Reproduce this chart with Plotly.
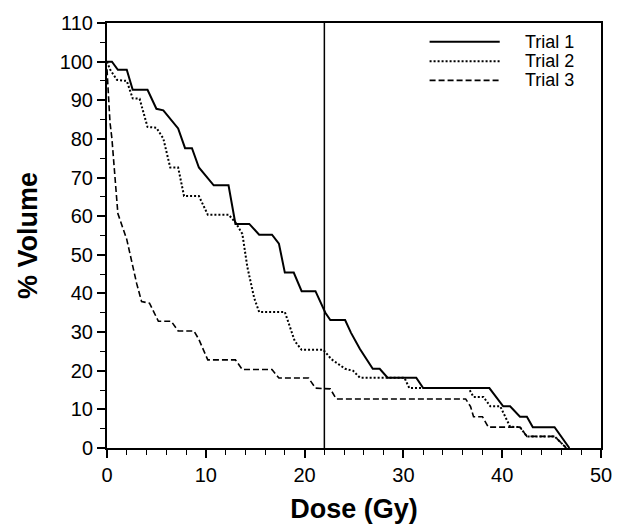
import plotly.graph_objects as go

trial1_x = [0, 0.5, 1.1, 2.0, 2.6, 4.1, 5.0, 5.7, 7.2, 7.9, 8.6, 9.3, 10.8, 12.3, 13.0, 14.4, 15.4, 16.7,
            17.4, 18.0, 18.9, 19.7, 21.1, 22.1, 22.6, 24.1, 24.7, 25.6, 26.9, 27.6, 28.4, 31.3, 32.0, 38.7,
            40.1, 40.8, 41.8, 42.5, 43.1, 45.3, 46.8]
trial1_y = [100, 100, 97.9, 97.9, 92.7, 92.7, 87.8, 87.4, 82.7, 77.6, 77.6, 72.6, 68, 68, 58, 58, 55.2, 55.2,
            52.9, 45.4, 45.4, 40.6, 40.6, 35, 33.1, 33.1, 29.8, 25.6, 20.5, 20.5, 18.2, 18.2, 15.5, 15.5,
            10.8, 10.8, 8.1, 8.1, 5.4, 5.4, 0]

trial2_x = [0, 0.3, 1.0, 2.0, 2.6, 3.3, 4.1, 5.0, 5.7, 6.4, 7.2, 7.8, 9.3, 10.2, 12.3, 13.0, 13.7, 14.2, 14.9,
            15.4, 18.0, 19.0, 19.7, 21.9, 22.7, 24.1, 24.9, 25.6, 30.1, 30.6, 36.6, 37.1, 38.1, 38.8, 39.8,
            40.8, 41.8, 42.5, 45.3, 46.5]
trial2_y = [100, 98, 95.3, 95, 90.5, 90.4, 83.1, 82.9, 80.1, 72.6, 72.6, 65.2, 65.2, 60.4, 60.4, 58.4, 55.4,
            46.9, 38.8, 35.2, 35.2, 27.7, 25.4, 25.4, 23, 20.5, 20, 18.2, 18.2, 15.5, 15.5, 13.2, 13.2, 10.8,
            10.8, 5.5, 5.4, 3, 3, 0]

trial3_x = [0, 0.3, 0.5, 0.8, 1.1, 2.0, 3.0, 3.5, 4.3, 5.2, 6.5, 7.2, 8.8, 9.3, 10.2, 13.0, 13.7, 16.7, 17.4,
            20.4, 21.1, 22.6, 23.2, 36.3, 36.8, 37.1, 38.0, 38.6, 41.8, 42.5, 45.3, 46.5]
trial3_y = [98, 84.4, 80, 71, 60.7, 54, 42.6, 37.9, 37.5, 32.8, 32.8, 30.3, 30.3, 28.1, 22.8, 22.8, 20.3, 20.3,
            18.1, 18.1, 15.5, 15.3, 12.7, 12.7, 10.7, 8.1, 8.1, 5.4, 5.4, 3, 3, 0]

series_names = ["Trial 1", "Trial 2", "Trial 3"]
reference_dose = 22

x_ticks = [0, 10, 20, 30, 40, 50]
y_ticks = [0, 10, 20, 30, 40, 50, 60, 70, 80, 90, 100, 110]

FONT = "Liberation Sans, Arial, Helvetica, sans-serif"

styles = [
    dict(color="black", width=2, dash="solid"),
    dict(color="black", width=2, dash="2px,2px"),
    dict(color="black", width=1.6, dash="6px,3px"),
]

fig = go.Figure()
for name, xs, ys, st in zip(series_names, [trial1_x, trial2_x, trial3_x],
                            [trial1_y, trial2_y, trial3_y], styles):
    fig.add_trace(go.Scatter(x=xs, y=ys, mode="lines", name=name, line=st, showlegend=False))

# vertical reference line
fig.add_shape(type="line", xref="x", yref="y", x0=reference_dose, x1=reference_dose, y0=0, y1=110,
              line=dict(color="black", width=1.5))

# manual legend (top right)
leg_rows_y = [0.956, 0.910, 0.865]
for name, st, ly in zip(series_names, styles, leg_rows_y):
    fig.add_shape(type="line", xref="paper", yref="paper", x0=0.653, x1=0.795, y0=ly, y1=ly,
                  line=st)
    fig.add_annotation(xref="paper", yref="paper", x=0.843, y=ly, text=name, showarrow=False,
                       xanchor="left", yanchor="middle", font=dict(family=FONT, size=18, color="black"))

axis_common = dict(
    showgrid=False, zeroline=False, showline=True, linecolor="black", linewidth=2, mirror=True,
    ticks="outside", ticklen=8, tickwidth=1.5, tickcolor="black",
    tickfont=dict(family=FONT, size=20, color="black"),
)

fig.update_xaxes(range=[0, 50], tickvals=x_ticks, ticktext=[str(v) for v in x_ticks],
                 minor=dict(dtick=2, ticks="outside", ticklen=5, tickwidth=1.2, tickcolor="black"),
                 title=dict(text="<b>Dose (Gy)</b>", font=dict(family=FONT, size=27, color="black"),
                            standoff=14),
                 **axis_common)
fig.update_yaxes(range=[0, 110], tickvals=y_ticks, ticktext=[str(v) for v in y_ticks],
                 minor=dict(dtick=5, ticks="outside", ticklen=5, tickwidth=1.2, tickcolor="black"),
                 title=dict(text="<b>% Volume</b>", font=dict(family=FONT, size=27, color="black"),
                            standoff=14),
                 **axis_common)

fig.update_layout(
    width=624, height=531,
    margin=dict(l=107, r=19, t=20, b=81),
    paper_bgcolor="white", plot_bgcolor="white",
    font=dict(family=FONT, color="black"),
)

fig.write_html("out.html")
